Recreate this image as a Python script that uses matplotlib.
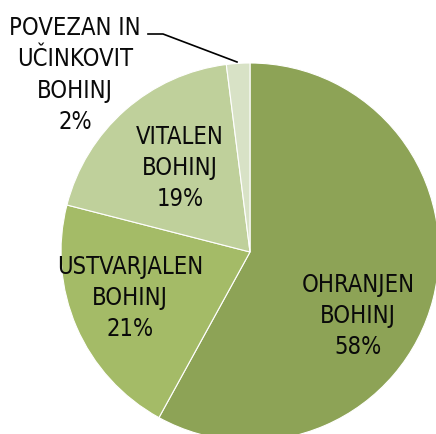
import matplotlib
matplotlib.use("Agg")
import matplotlib.pyplot as plt
from matplotlib import font_manager

labels = ["OHRANJEN\nBOHINJ", "USTVARJALEN\nBOHINJ", "VITALEN\nBOHINJ", "POVEZAN IN\nUČINKOVIT\nBOHINJ"]
values = [58, 21, 19, 2]
colors = ["#8da356", "#a4bb67", "#bfd09b", "#d8e2c6"]

names = {f.name for f in font_manager.fontManager.ttflist}
fam = "Liberation Sans Narrow" if "Liberation Sans Narrow" in names else "DejaVu Sans"

fig = plt.figure(figsize=(4.36, 4.34), dpi=100)
ax = fig.add_axes([0, 0, 1, 1])
R = 189
wedges, _ = ax.pie(values, colors=colors, startangle=90, counterclock=False,
                   radius=R, center=(0, 0),
                   wedgeprops=dict(edgecolor="white", linewidth=0.8))
ax.set_xlim(-250, 186)
ax.set_ylim(-182, 252)
ax.set_aspect("equal")
ax.axis("off")

# label positions (offsets from pie center, in pixels)
pos = [(108, -64), (-120, -46), (-70, 84), (-175, 177)]
for lab, v, (x, y) in zip(labels, values, pos):
    ax.text(x, y, f"{lab}\n{v}%", ha="center", va="center", fontsize=17,
            family=fam, fontstretch="condensed", linespacing=1.38, color="#0a0a0a")

# leader line for the small slice
ax.plot([-102, -87, -13], [218, 218, 190], color="black", lw=1.2)

fig.savefig("out.png", dpi=100)
